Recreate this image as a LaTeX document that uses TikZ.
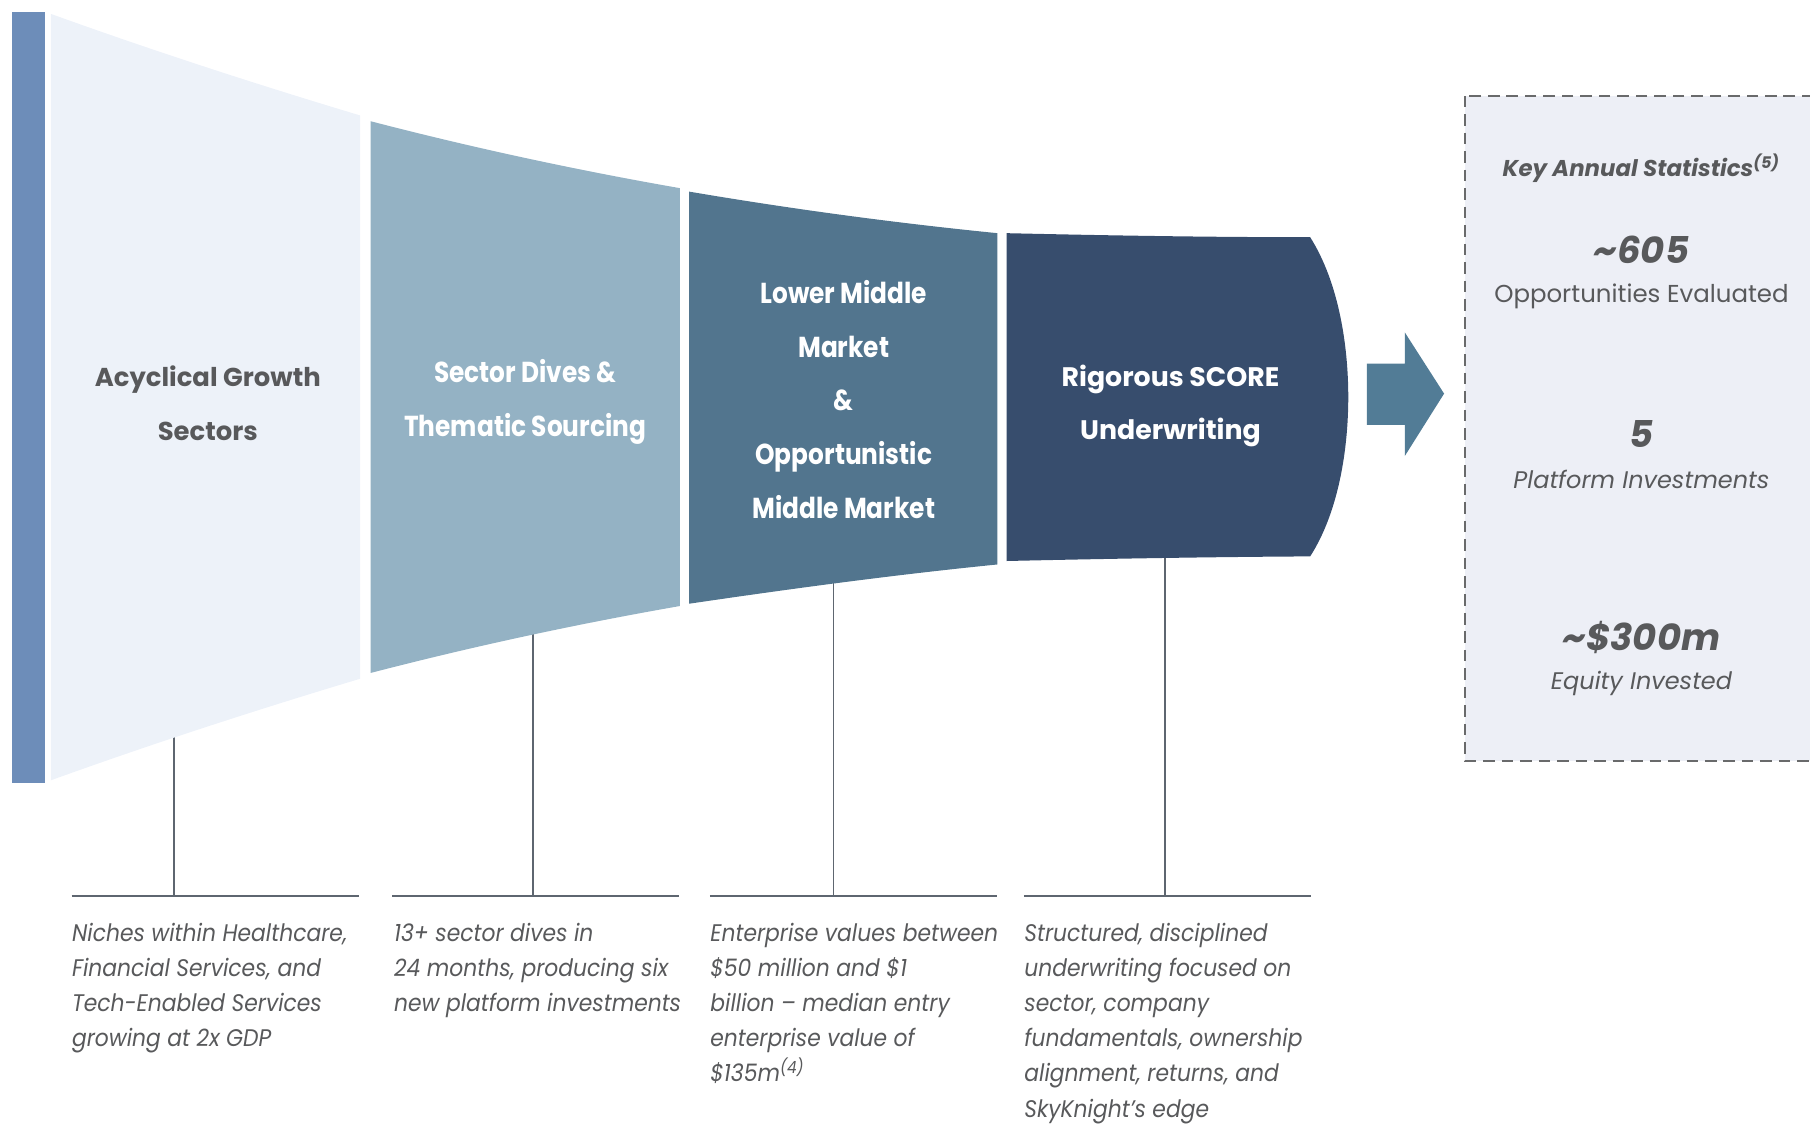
\documentclass[tikz,border=0pt]{standalone}
\usepackage{fontspec}
\setmainfont{Poppins}
\newfontfamily\condfont{Poppins}[FakeStretch=0.86]
\newfontfamily\descfont{Poppins}[FakeStretch=0.91]
\definecolor{barblue}{HTML}{6D8DB9}
\definecolor{pone}{HTML}{EDF2F9}
\definecolor{ptwo}{HTML}{94B2C4}
\definecolor{pthree}{HTML}{52758E}
\definecolor{pfour}{HTML}{374D6D}
\definecolor{arrowc}{HTML}{527C96}
\definecolor{boxfill}{HTML}{EDEFF6}
\definecolor{txtgray}{HTML}{58595B}
\definecolor{linegray}{HTML}{5E6670}
\tikzset{
  conn/.style={draw=linegray, line width=0.8pt},
  rule/.style={draw=linegray, line width=1pt},
  titlegray/.style={text=txtgray, align=center, inner sep=0pt, font={\bfseries\fontsize{11.2}{23.5}\selectfont}},
  titlecond/.style={text=white, align=center, inner sep=0pt, font={\condfont\bfseries\fontsize{12.5}{23.3}\selectfont}},
  titlewide/.style={text=white, align=center, inner sep=0pt, font={\bfseries\fontsize{11.6}{23}\selectfont}},
  desc/.style={text=txtgray, align=left, anchor=north west, inner sep=0pt, font={\descfont\itshape\fontsize{10.4}{15.25}\selectfont}},
  stathead/.style={text=txtgray, inner sep=0pt, font={\bfseries\itshape\fontsize{9.9}{12}\selectfont}},
  statnum/.style={text=txtgray, inner sep=0pt, font={\bfseries\itshape\fontsize{16}{18}\selectfont}},
  statlab/.style={text=txtgray, inner sep=0pt, font={\fontsize{10.6}{12}\selectfont}},
  statlabit/.style={text=txtgray, inner sep=0pt, font={\itshape\fontsize{10.4}{12}\selectfont}}
}
\begin{document}
\begin{tikzpicture}[x=0.5pt,y=-0.5pt]
\useasboundingbox (0,0) rectangle (1568,973);
\clip (0,0) rectangle (1568,973);

% connector coordinates
\coordinate (c1t) at (151,630); \coordinate (c1b) at (151,776);
\coordinate (c2t) at (462,545); \coordinate (c2b) at (462,776);
\coordinate (c3t) at (722,495); \coordinate (c3b) at (722,776);
\coordinate (c4t) at (1009,478); \coordinate (c4b) at (1009,776);
\coordinate (r1a) at (62,776);  \coordinate (r1b) at (311,776);
\coordinate (r2a) at (340,776); \coordinate (r2b) at (588,776);
\coordinate (r3a) at (615,776); \coordinate (r3b) at (864,776);
\coordinate (r4a) at (887,776); \coordinate (r4b) at (1136,776);

\draw[conn] (c1t) -- (c1b);
\draw[conn] (c2t) -- (c2b);
\draw[conn] (c3t) -- (c3b);
\draw[conn] (c4t) -- (c4b);
\draw[rule] (r1a) -- (r1b);
\draw[rule] (r2a) -- (r2b);
\draw[rule] (r3a) -- (r3b);
\draw[rule] (r4a) -- (r4b);

% left bar
\fill[barblue] (10,10) rectangle (39,678);

% funnel panels
\fill[pone] (44,12) .. controls (133.3,44.2) and (222.7,73.2) .. (312,100) -- (312,588)
  .. controls (222.7,614.8) and (133.3,643.8) .. (44,676) -- cycle;
\fill[ptwo] (321,105) .. controls (410.3,128.2) and (499.7,147.4) .. (589,163) -- (589,525)
  .. controls (499.7,540.6) and (410.3,559.8) .. (321,583) -- cycle;
\fill[pthree] (597,166) .. controls (686,181.1) and (775,193.1) .. (864,202) -- (864,489)
  .. controls (775,497.9) and (686,509.9) .. (597,523) -- cycle;
\fill[pfour] (872,202) .. controls (960,204) and (1048,205.5) .. (1135,205.5)
  .. controls (1160,245) and (1168,300) .. (1168,344)
  .. controls (1168,388) and (1160,443) .. (1135,482)
  .. controls (1048,482.5) and (960,484) .. (872,486) -- cycle;

% titles
\node[titlegray] (t1) at (180,349.5) {Acyclical Growth\\Sectors};
\node[titlecond] (t2) at (455,348) {Sector Dives \&\\Thematic Sourcing};
\node[titlecond] (t3) at (731,346) {Lower Middle\\Market\\\&\\Opportunistic\\Middle Market};
\node[titlewide] (t4) at (1014,351.5) {Rigorous SCORE\\Underwriting};

% arrow
\fill[arrowc] (1184,315) -- (1217,315) -- (1217,288) -- (1251,341) -- (1217,395) -- (1217,368) -- (1184,368) -- cycle;

% stats box
\draw[draw=txtgray!90, fill=boxfill, line width=1pt, dash pattern=on 5pt off 3pt] (1269,83) rectangle (1620,659);
\node[stathead] (sh) at (1422,146) {Key Annual Statistics\textsuperscript{(5)}};
\node[statnum] (n1) at (1422,216) {\textasciitilde605};
\node[statlab] (l1) at (1422,257) {Opportunities Evaluated};
\node[statnum] (n2) at (1422,376) {5};
\node[statlabit] (l2) at (1422,415) {Platform Investments};
\node[statnum] (n3) at (1422,552) {\textasciitilde\$300m};
\node[statlabit] (l3) at (1422,592) {Equity Invested};

% descriptions
\node[desc] (d1) at (62,799) {Niches within Healthcare,\\Financial Services, and\\Tech-Enabled Services\\growing at 2x GDP};
\node[desc] (d2) at (341,799) {13+ sector dives in\\24 months, producing six\\new platform investments};
\node[desc] (d3) at (615,799) {Enterprise values between\\\$50 million and \$1\\billion – median entry\\enterprise value of\\\$135m\textsuperscript{(4)}};
\node[desc] (d4) at (887,799) {Structured, disciplined\\underwriting focused on\\sector, company\\fundamentals, ownership\\alignment, returns, and\\SkyKnight’s edge};
\end{tikzpicture}
\end{document}
